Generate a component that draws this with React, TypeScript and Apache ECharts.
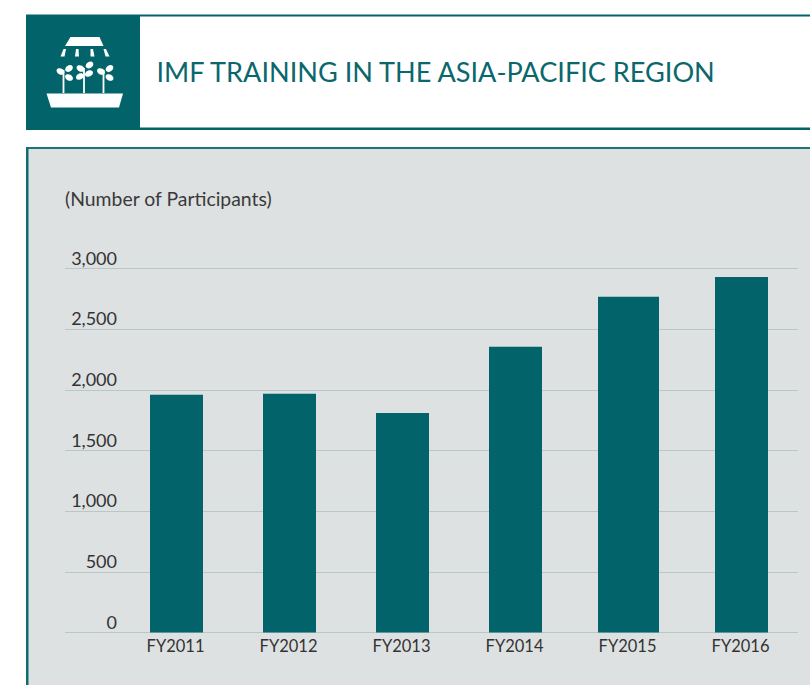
import React, { useEffect, useRef } from "react";
import * as echarts from "echarts";

const categories = ["FY2011", "FY2012", "FY2013", "FY2014", "FY2015", "FY2016"];
const participants = [1960, 1968, 1810, 2355, 2768, 2930];
const wideCategory = "FY2015";
const titleText = "IMF TRAINING IN THE ASIA-PACIFIC REGION";
const unitText = "(Number of Participants)";

const TEAL = "#02646a";
const FONT = "Lato";

const white = { fill: "#ffffff" };
const poly = (points: number[][]) => ({ type: "polygon", shape: { points }, style: white, z: 5 });
const leaf = (cx: number, cy: number, rotation: number) => ({
  type: "ellipse",
  x: cx,
  y: cy,
  rotation,
  shape: { cx: 0, cy: 0, rx: 4.2, ry: 3 },
  style: white,
  z: 5,
});
const stem = (x: number, y1: number, y2: number) => ({
  type: "rect",
  shape: { x: x - 0.9, y: y1, width: 1.8, height: y2 - y1 },
  style: white,
  z: 5,
});

export default function App() {
  const ref = useRef<HTMLDivElement>(null);
  useEffect(() => {
    const chart = echarts.init(ref.current!, null, { renderer: "svg" });
    chart.setOption({
      animation: false,
      backgroundColor: "#ffffff",
      title: {
        text: titleText,
        left: 156.5,
        top: 58,
        padding: 0,
        textStyle: { fontFamily: FONT, fontSize: 27.1, fontWeight: "normal", color: "#0a686d" },
      },
      graphic: [
        { type: "rect", shape: { x: 26, y: 148, width: 784, height: 537 }, style: { fill: "#dee1e2" }, z: -10 },
        { type: "rect", shape: { x: 26, y: 147, width: 784, height: 2 }, style: { fill: "#1c7478" }, z: -9 },
        { type: "rect", shape: { x: 26, y: 147, width: 2.5, height: 538 }, style: { fill: "#0f6d72" }, z: -9 },
        { type: "rect", shape: { x: 26, y: 15, width: 114, height: 114 }, style: { fill: TEAL }, z: -9 },
        { type: "rect", shape: { x: 26, y: 14.5, width: 784, height: 2 }, style: { fill: TEAL }, z: -9 },
        { type: "rect", shape: { x: 26, y: 127.5, width: 784, height: 2.5 }, style: { fill: TEAL }, z: -9 },
        poly([[70.5, 37], [99.5, 37], [103.5, 46], [65, 46]]),
        poly([[46.5, 93.5], [123, 93.5], [119, 107.5], [51, 107.5]]),
        poly([[63.5, 49], [66, 49], [64.5, 56.5], [60.5, 56.5]]),
        poly([[76, 49], [78.5, 49], [79, 56.5], [75, 56.5]]),
        poly([[90.5, 49], [93, 49], [94.5, 56.5], [90.5, 56.5]]),
        poly([[103.5, 49], [106, 49], [109.5, 56.5], [105.5, 56.5]]),
        stem(63.5, 70, 93),
        stem(84, 68, 93),
        stem(103.5, 70, 93),
        leaf(60.5, 71.5, -0.5),
        leaf(69, 68.5, 0.6),
        leaf(69, 77.5, -0.5),
        leaf(80.5, 68.5, -0.5),
        leaf(89.5, 65, 0.6),
        leaf(89, 73.5, 0.4),
        leaf(80, 76.5, 0.4),
        leaf(101, 71.5, -0.5),
        leaf(109.5, 68.5, 0.6),
        leaf(109.5, 77.5, -0.5),
        {
          type: "text",
          x: 65,
          y: 198,
          style: { text: unitText, fontFamily: FONT, fontSize: 19.4, fill: "#3a3a3a", verticalAlign: "middle" },
        },
      ],
      grid: [
        { left: 65, top: 268.5, width: 733, height: 364 },
        { left: 120, top: 268.5, width: 678, height: 364 },
      ],
      xAxis: [
        { type: "category", gridIndex: 0, data: categories, show: false },
        {
          type: "category",
          gridIndex: 1,
          data: categories,
          axisLine: { show: false },
          axisTick: { show: false },
          axisLabel: {
            fontFamily: FONT,
            fontSize: 16.5,
            color: "#333333",
            margin: 5,
            interval: 0,
            padding: [0, 2, 0, 0],
          },
        },
        { type: "category", gridIndex: 1, data: categories, show: false },
      ],
      yAxis: [
        {
          type: "value",
          gridIndex: 0,
          min: 0,
          max: 3000,
          interval: 500,
          axisLine: { show: false },
          axisTick: { show: false },
          splitLine: { show: true, lineStyle: { color: "#b9c7c9", width: 1 } },
          axisLabel: {
            fontFamily: FONT,
            fontSize: 18,
            color: "#333333",
            margin: -52,
            align: "right",
            verticalAlign: "bottom",
            padding: [0, 0, 2, 0],
            formatter: (v: number) => v.toLocaleString("en-US"),
          },
        },
        { type: "value", gridIndex: 1, min: 0, max: 3000, interval: 500, show: false, splitLine: { show: false } },
      ],
      series: [
        {
          type: "bar",
          xAxisIndex: 1,
          yAxisIndex: 1,
          barWidth: 53,
          itemStyle: { color: TEAL },
          data: participants.map((v, i) => (categories[i] === wideCategory ? null : v)),
        },
        {
          type: "bar",
          xAxisIndex: 2,
          yAxisIndex: 1,
          barWidth: 61,
          itemStyle: { color: TEAL },
          data: participants.map((v, i) => (categories[i] === wideCategory ? v : null)),
        },
      ],
    });
    return () => chart.dispose();
  }, []);
  return <div ref={ref} style={{ position: "absolute", left: 0, top: 0, width: 810, height: 685 }} />;
}
